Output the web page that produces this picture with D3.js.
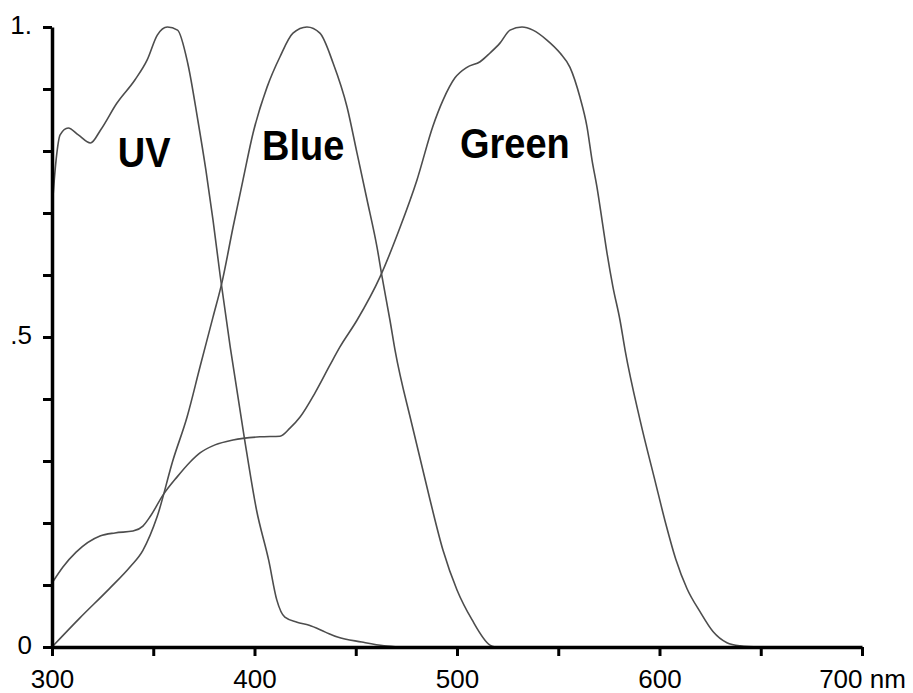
<!DOCTYPE html>
<html>
<head>
<meta charset="utf-8">
<script src="https://cdn.jsdelivr.net/npm/d3@7"></script>
<style>
  body { margin: 0; background: #fff; }
  svg { display: block; }
</style>
</head>
<body>
<div id="chart"></div>
<script>
// spectral sensitivity curves, [wavelength nm, relative sensitivity]
var uvCurve = [
  [300, 0.705], [302, 0.785], [304, 0.826], [308, 0.837], [313, 0.826], [319, 0.813],
  [324, 0.834], [332, 0.877], [341, 0.915], [347, 0.947], [352, 0.987], [357, 1.0],
  [362, 0.995], [367, 0.942], [372, 0.85], [376, 0.769], [379.5, 0.689], [383, 0.6],
  [388, 0.484], [395, 0.337], [401, 0.221], [407, 0.14], [411, 0.076], [415, 0.048],
  [421, 0.04], [427, 0.035], [435, 0.024], [441, 0.016], [453, 0.008], [464, 0.002], [472, 0]
];
var blueCurve = [
  [300, 0], [313.8, 0.047], [328.6, 0.095], [338.5, 0.129], [344.9, 0.156], [351.9, 0.21],
  [359.8, 0.302], [366.7, 0.371], [373.1, 0.452], [379.5, 0.532], [384, 0.589], [389.4, 0.677],
  [394.3, 0.753], [399.3, 0.829], [406.2, 0.903], [412.6, 0.952], [419, 0.99], [425.9, 1.0],
  [432.3, 0.99], [438.8, 0.942], [445.7, 0.871], [450.6, 0.797], [455.6, 0.721], [460.5, 0.645],
  [463, 0.597], [466.9, 0.527], [469.4, 0.479], [477.8, 0.358], [486.7, 0.237], [493.1, 0.156],
  [500, 0.092], [507.4, 0.044], [516.3, 0.003], [518.8, 0]
];
var greenCurve = [
  [300, 0.103], [305.4, 0.129], [311.9, 0.153], [323.7, 0.179], [331.1, 0.184], [340, 0.187],
  [344.9, 0.195], [348.4, 0.21], [354.8, 0.245], [361.7, 0.274], [368.1, 0.298], [373.1, 0.313],
  [380.5, 0.326], [389.4, 0.334], [402.7, 0.339], [412.6, 0.340], [417.5, 0.353], [422.5, 0.371],
  [429.9, 0.41], [437.3, 0.455], [442.2, 0.484], [450.6, 0.527], [462, 0.597], [471.9, 0.677],
  [480.2, 0.753], [488.1, 0.84], [493.1, 0.882], [499, 0.918], [504.9, 0.935], [511.4, 0.944],
  [516.3, 0.958], [521.2, 0.974], [526.2, 0.995], [532.1, 1.0], [537.5, 0.995], [544.4, 0.979],
  [550.9, 0.958], [555.8, 0.935], [560.7, 0.887], [564.2, 0.839], [566.7, 0.785], [569.1, 0.742],
  [571.6, 0.689], [574.1, 0.635], [577, 0.581], [580.5, 0.527], [583, 0.479], [590.4, 0.366],
  [597.8, 0.268], [603, 0.2], [608, 0.142], [613.6, 0.094], [620, 0.057], [626.4, 0.025],
  [633.3, 0.007], [639.8, 0.002], [649.6, 0]
];

// curve names and where their labels sit [nm, value]
var curveLabels = [
  { name: "UV", at: [345.5, 0.775] },
  { name: "Blue", at: [424, 0.785] },
  { name: "Green", at: [528.6, 0.789] }
];

var xTicks = [300, 350, 400, 450, 500, 550, 600, 650, 700];
var xTickLabels = { 300: "300", 400: "400", 500: "500", 600: "600", 700: "700 nm" };
var yTicks = [0, 0.1, 0.2, 0.3, 0.4, 0.5, 0.6, 0.7, 0.8, 0.9, 1.0];
var yTickLabels = { 0: "0", 0.5: ".5", 1: "1." };

var W = 913, H = 693;
var plot = { left: 52, right: 862, top: 27, bottom: 647 };

var svg = d3.select("#chart").append("svg")
  .attr("width", W)
  .attr("height", H);

var x = d3.scaleLinear().domain([300, 700]).range([plot.left, plot.right]);
var y = d3.scaleLinear().domain([0, 1]).range([plot.bottom, plot.top]);

// curves
var line = d3.line()
  .x(d => x(d[0]))
  .y(d => y(d[1]))
  .curve(d3.curveMonotoneX);

svg.append("g")
  .selectAll("path")
  .data([uvCurve, blueCurve, greenCurve])
  .join("path")
  .attr("d", line)
  .attr("fill", "none")
  .attr("stroke", "#4d4d4d")
  .attr("stroke-width", 1.6);

// x axis
var xAxis = svg.append("g")
  .attr("transform", `translate(0,${plot.bottom})`)
  .call(d3.axisBottom(x)
    .tickValues(xTicks)
    .tickSize(9)
    .tickSizeOuter(0)
    .tickPadding(14)
    .tickFormat(d => xTickLabels[d] || ""));

// y axis
var yAxis = svg.append("g")
  .attr("transform", `translate(${plot.left},0)`)
  .call(d3.axisLeft(y)
    .tickValues(yTicks)
    .tickSize(9)
    .tickSizeOuter(0)
    .tickPadding(11)
    .tickFormat(d => yTickLabels[Math.round(d * 10) / 10] || ""));

[xAxis, yAxis].forEach(function(g) {
  g.select(".domain").attr("stroke", "#000").attr("stroke-width", 3.5);
  g.selectAll(".tick line").attr("stroke", "#000").attr("stroke-width", 3);
  g.selectAll(".tick text")
    .attr("fill", "#000")
    .attr("font-family", "Liberation Sans, Arial, sans-serif")
    .attr("font-size", "26px");
});
yAxis.selectAll(".tick text").attr("dy", "0.25em");

// curve labels
svg.append("g")
  .selectAll("text")
  .data(curveLabels)
  .join("text")
  .attr("transform", d => `translate(${x(d.at[0])},${y(d.at[1])}) scale(1,1.1)`)
  .attr("text-anchor", "middle")
  .attr("font-family", "Liberation Sans, Arial, sans-serif")
  .attr("font-weight", "bold")
  .attr("font-size", "38px")
  .attr("fill", "#000")
  .text(d => d.name);
</script>
</body>
</html>
